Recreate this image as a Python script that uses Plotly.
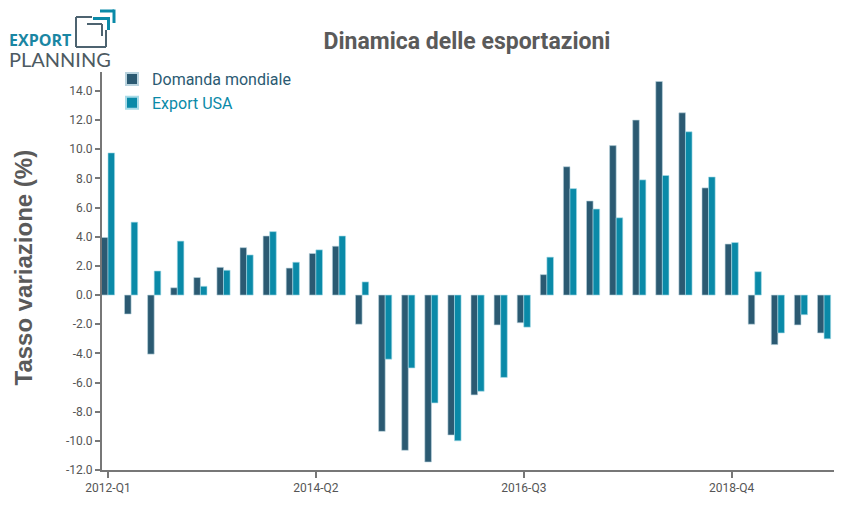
import plotly.graph_objects as go

quarters = [f"{y}-Q{q}" for y in range(2012, 2020) for q in range(1, 5)]
domanda_mondiale = [3.95, -1.3, -4.05, 0.5, 1.2, 1.9, 3.25, 4.05, 1.85, 2.85,
                    3.35, -2.0, -9.35, -10.65, -11.45, -9.6, -6.85, -2.05, -1.9, 1.4,
                    8.8, 6.45, 10.25, 12.0, 14.65, 12.5, 7.35, 3.5, -2.0, -3.4,
                    -2.05, -2.6]
export_usa = [9.75, 5.0, 1.65, 3.7, 0.6, 1.7, 2.75, 4.35, 2.25, 3.1,
              4.05, 0.9, -4.4, -5.0, -7.4, -10.0, -6.6, -5.65, -2.2, 2.6,
              7.3, 5.9, 5.3, 7.9, 8.2, 11.2, 8.1, 3.6, 1.6, -2.6,
              -1.35, -3.0]
tick_labels = ["2012-Q1", "2014-Q2", "2016-Q3", "2018-Q4"]
y_ticks = list(range(-12, 16, 2))

DARK = "#2b5a72"
TEAL = "#0a8aa8"
GRAY = "#5a5a5a"

x_idx = list(range(len(quarters)))

fig = go.Figure()
fig.add_trace(go.Bar(x=x_idx, y=domanda_mondiale, name="Domanda mondiale",
                     marker=dict(color=DARK, line=dict(color="#b9d3de", width=0.6))))
fig.add_trace(go.Bar(x=x_idx, y=export_usa,
                     name=f"<span style='color:{TEAL}'>Export USA</span>",
                     marker=dict(color=TEAL, line=dict(color="#a8dbe8", width=0.6))))

# page body adds an 8px margin; work in reference pixel coords and subtract it
O = 8
W, H = 861 - O, 528 - O
L, R, T, B = 102 - O, 27, 72 - O, 58
PW, PH = W - L - R, H - T - B


def px(x):
    return (x - O - L) / PW


def py(y):
    return (H - B - (y - O)) / PH


shapes = []
gray_logo = "#4d6370"
segs = [
    ((76, 17), (76, 47), gray_logo, 2),
    ((76, 47), (106, 47), gray_logo, 2),
    ((106, 30), (106, 47), gray_logo, 2),
    ((76, 17), (92, 17), gray_logo, 2),
    ((87, 24), (102, 24), gray_logo, 2),
    ((102, 24), (102, 36), gray_logo, 2),
    ((93, 18.5), (108.5, 18.5), TEAL, 3),
    ((108.5, 17), (108.5, 30), TEAL, 3),
    ((100, 11), (114, 11), TEAL, 3),
    ((114, 9.5), (114, 23), TEAL, 3),
]
for (x0, y0), (x1, y1), c, w in segs:
    shapes.append(dict(type="line", xref="paper", yref="paper",
                       x0=px(x0), y0=py(y0), x1=px(x1), y1=py(y1),
                       line=dict(color=c, width=w)))

logo_text = ("<b>EXPORT</b><br>"
             "<span style='font-size:20px;font-family:Lato;color:#4d5a62'>PLANNING</span>")
annotations = [
    dict(text=logo_text, xref="paper", yref="paper", x=px(8), y=py(50),
         xanchor="left", yanchor="middle", align="left", showarrow=False,
         borderpad=0,
         font=dict(family="Open Sans", size=16, color="#1a86a3")),
    dict(text="<b>Tasso variazione (%)</b>", xref="paper", yref="paper",
         x=px(22.5), y=py(268), xanchor="center", yanchor="middle", textangle=-90,
         showarrow=False, borderpad=0,
         font=dict(family="Liberation Sans", size=24, color=GRAY)),
]

fig.update_layout(
    width=W, height=H,
    margin=dict(l=L, r=R, t=T, b=B, autoexpand=False),
    paper_bgcolor="white", plot_bgcolor="white",
    barmode="group", bargap=0.43, bargroupgap=0,
    title=dict(text="<b>Dinamica delle esportazioni</b>", xref="paper", x=px(467),
               xanchor="center", yref="container", y=1 - (41 - O) / H, yanchor="middle",
               font=dict(family="Roboto", size=23, color=GRAY)),
    font=dict(family="Roboto", color="#666"),
    legend=dict(x=px(112), y=py(62), xanchor="left", yanchor="top",
                bgcolor="rgba(0,0,0,0)", font=dict(family="Roboto", size=16, color=DARK),
                tracegroupgap=0, itemsizing="constant"),
    xaxis=dict(range=[-0.26, 31.43], tickmode="array",
               tickvals=[quarters.index(t) for t in tick_labels], ticktext=tick_labels,
               showline=True, linecolor="#777", linewidth=2, ticks="outside",
               ticklen=6, tickcolor="#777", tickwidth=1.5,
               tickfont=dict(family="Roboto", size=12, color="#555"),
               showgrid=False, zeroline=False, automargin=False),
    yaxis=dict(range=[-12, 15.3], tickmode="array", tickvals=y_ticks,
               ticktext=[f"{v:.1f}" for v in y_ticks],
               showline=True, linecolor="#777", linewidth=2, ticks="outside",
               ticklen=5, tickcolor="#777", tickwidth=1.5,
               tickfont=dict(family="Roboto", size=12, color="#555"),
               showgrid=False, zeroline=False, automargin=False),
    shapes=shapes, annotations=annotations,
)

fig.write_html("out.html")
